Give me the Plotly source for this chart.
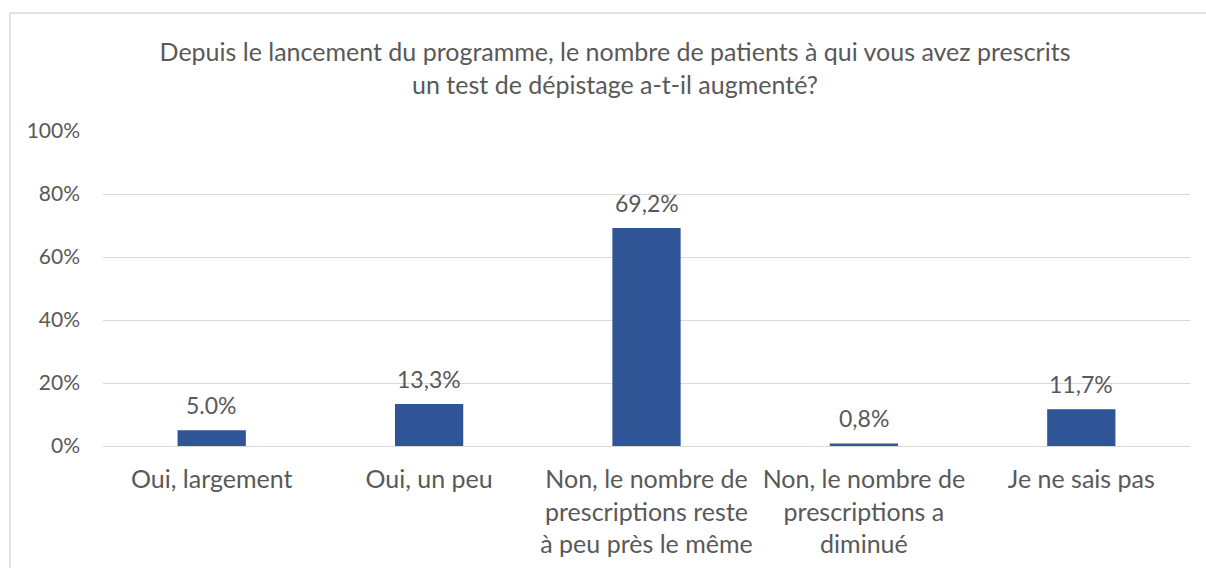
import plotly.graph_objects as go

categories = [
    "Oui, largement",
    "Oui, un peu",
    "Non, le nombre de<br>prescriptions reste<br>à peu près le même",
    "Non, le nombre de<br>prescriptions a<br>diminué",
    "Je ne sais pas",
]
values = [5.0, 13.3, 69.2, 0.8, 11.7]
value_labels = ["5.0%", "13,3%", "69,2%", "0,8%", "11,7%"]
tick_vals = [0, 20, 40, 60, 80, 100]
tick_text = ["0%", "20%", "40%", "60%", "80%", "100%"]
title_text = ("Depuis le lancement du programme, le nombre de patients à qui vous avez prescrits"
              "<br>un test de dépistage a-t-il augmenté?")

FONT = "Lato"
GREY = "#595959"

fig = go.Figure(go.Bar(x=categories, y=values, marker_color="#2F5597",
                       marker_line_width=0, hoverinfo="skip"))

for c, v, t in zip(categories, values, value_labels):
    fig.add_annotation(x=c, y=v, text=t, showarrow=False, yanchor="bottom",
                       yshift=9, font=dict(family=FONT, size=23, color=GREY))

fig.update_layout(
    width=1206, height=568,
    margin=dict(l=103, r=16, t=131, b=122, autoexpand=False),
    paper_bgcolor="white", plot_bgcolor="white",
    bargap=0.686,
    showlegend=False,
    title=dict(text=title_text, x=615/1206, xanchor="center", y=1-61/568, yanchor="middle",
               font=dict(family=FONT, size=25, color=GREY)),
    font=dict(family=FONT, color=GREY),
)
fig.update_yaxes(range=[0, 100], tickvals=tick_vals, ticktext=tick_text,
                 showgrid=True, gridcolor="#D9D9D9", gridwidth=1.3,
                 zeroline=False, showline=False, ticks="", automargin=False,
                 tickfont=dict(family=FONT, size=21, color=GREY),
                 ticklabelstandoff=22)
fig.update_xaxes(showline=True, linecolor="#D9D9D9", linewidth=1.3, ticks="",
                 automargin=False,
                 tickfont=dict(family=FONT, size=25, color=GREY),
                 ticklabelstandoff=11)

# outer chart frame (left and top edges visible)
fig.add_shape(type="rect", xref="paper", yref="paper",
              x0=(10-103)/1087, x1=1.2, y0=-0.6, y1=(446-13)/315,
              line=dict(color="#D9D9D9", width=1.5), fillcolor="rgba(0,0,0,0)", layer="below")

fig.write_html("out.html", config={"displayModeBar": False},
               post_script="document.body.style.margin='0';")
